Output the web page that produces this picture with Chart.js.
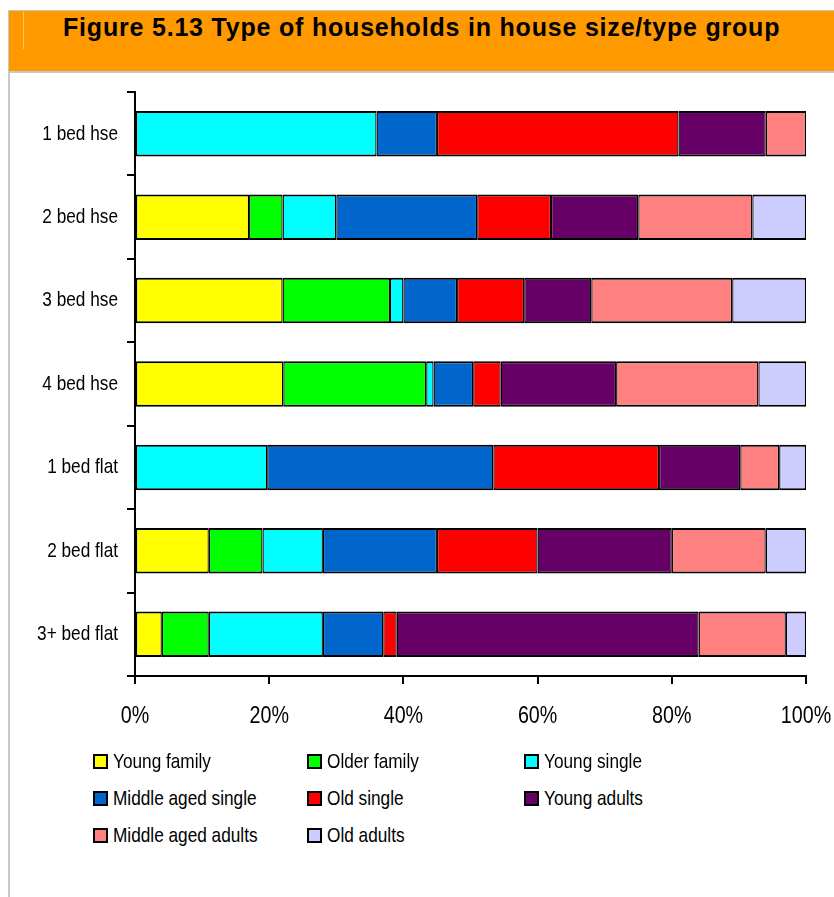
<!DOCTYPE html>
<html>
<head>
<meta charset="utf-8">
<script src="https://cdn.jsdelivr.net/npm/chart.js@4/dist/chart.umd.min.js"></script>
<style>
  html, body { margin: 0; padding: 0; background: #fff; }
  body { width: 834px; height: 897px; position: relative; overflow: hidden; }
  #banner {
    position: absolute; left: 8px; top: 10px; width: 826px; height: 60px;
    background: #FF9900; border-top: 1px solid #c8c8c8; border-bottom: 2px solid #c8c8c8;
    border-left: 1px solid #c8c8c8;
  }
  #banner .streak { position: absolute; left: 14px; top: 1px; width: 1px; height: 37px; background: #ffc36b; }
  #banner h1 {
    position: absolute; left: 54px; top: 2px; margin: 0;
    font: bold 25px "Liberation Sans", Arial, sans-serif; letter-spacing: 0.8px;
    color: #000; white-space: nowrap;
  }
  #frame { position: absolute; left: 8px; top: 73px; width: 2px; height: 824px; background: #c8c8c8; }
  #wrap { position: absolute; left: 10px; top: 74px; width: 824px; height: 680px; }
  #legend { position: absolute; left: 93px; top: 750px; width: 700px; }
  .item { position: absolute; display: flex; align-items: center; height: 22px; white-space: nowrap; }
  .item i { display: inline-block; width: 11px; height: 11px; border: 2px solid #000; margin-right: 5px; }
  .item span { display: inline-block; font: 21px "Liberation Sans", Arial, sans-serif; color: #000;
               transform: scaleX(0.82); transform-origin: 0 50%; }
</style>
</head>
<body>
<div id="banner"><div class="streak"></div><h1>Figure 5.13 Type of households in house size/type group</h1></div>
<div id="frame"></div>
<div id="wrap"><canvas id="chart" width="824" height="680"></canvas></div>
<div id="legend"></div>
<script>
// Household groups (rows) and the share of each household type, in percent
const categories = ['1 bed hse', '2 bed hse', '3 bed hse', '4 bed hse', '1 bed flat', '2 bed flat', '3+ bed flat'];
const seriesNames = ['Young family', 'Older family', 'Young single', 'Middle aged single',
                     'Old single', 'Young adults', 'Middle aged adults', 'Old adults'];
const seriesColors = ['#FFFF00', '#00FF00', '#00FFFF', '#0066CC', '#FF0000', '#660066', '#FF8080', '#CCCCFF'];

const youngFamily      = [0,  17, 22, 22.1, 0,    11, 4];
const olderFamily      = [0,  5,  16, 21.3, 0,    8,  7];
const youngSingle      = [36, 8,  2,  1.1,  19.7, 9,  17];
const middleAgedSingle = [9,  21, 8,  5.9,  33.7, 17, 9];
const oldSingle        = [36, 11, 10, 4.1,  24.7, 15, 2];
const youngAdults      = [13, 13, 10, 17.2, 12.1, 20, 45];
const middleAgedAdults = [6,  17, 21, 21.2, 5.8,  14, 13];
const oldAdults        = [0,  8,  11, 7.1,  4.0,  6,  3];

const xTicks = [0, 20, 40, 60, 80, 100];
const xTickLabels = ['0%', '20%', '40%', '60%', '80%', '100%'];

const seriesValues = [youngFamily, olderFamily, youngSingle, middleAgedSingle,
                      oldSingle, youngAdults, middleAgedAdults, oldAdults];

const Y_FONT = '21px "Liberation Sans", Arial, sans-serif';
const X_FONT = '24px "Liberation Sans", Arial, sans-serif';
const NARROW = 0.82;   // horizontal squeeze giving a narrow sans face

const datasets = seriesNames.map((name, i) => ({
  label: name,
  data: seriesValues[i],
  backgroundColor: seriesColors[i],
  borderColor: '#000',
  borderWidth: { top: 2, bottom: 2, left: 1.3, right: 1.3 },
  borderSkipped: false,
  categoryPercentage: 1,
  barPercentage: 0.545
}));

// Axis labels drawn in a condensed style at the scales' own tick positions
const narrowLabels = {
  id: 'narrowLabels',
  afterDraw(chart) {
    const { ctx, scales: { x, y } } = chart;
    const drawNarrow = (text, px, py, align) => {
      ctx.save();
      ctx.translate(px, py);
      ctx.scale(NARROW, 1);
      ctx.textAlign = align;
      ctx.fillText(text, 0, 0);
      ctx.restore();
    };
    ctx.save();
    ctx.fillStyle = '#000';
    ctx.textBaseline = 'middle';
    ctx.font = Y_FONT;
    categories.forEach((c, i) => drawNarrow(c, y.right - 17, y.getPixelForValue(i), 'right'));
    ctx.font = X_FONT;
    xTicks.forEach((v, i) => drawNarrow(xTickLabels[i], x.getPixelForValue(v), x.top + 40, 'center'));
    ctx.restore();
  }
};

const chart = new Chart(document.getElementById('chart'), {
  type: 'bar',
  data: { labels: categories, datasets },
  plugins: [narrowLabels],
  options: {
    indexAxis: 'y',
    responsive: false,
    animation: false,
    devicePixelRatio: 1,
    layout: { padding: { top: 18, right: 28, bottom: 22, left: 0 } },
    plugins: { legend: { display: false }, tooltip: { enabled: false } },
    scales: {
      x: {
        stacked: true, min: 0, max: 100,
        afterBuildTicks: s => { s.ticks = xTicks.map(v => ({ value: v })); },
        afterFit: s => { s.height = 56; },
        ticks: { display: false },
        grid: { display: true, drawOnChartArea: false, drawTicks: true, tickLength: 8,
                color: '#000', lineWidth: 2 },
        border: { display: true, color: '#000', width: 2 }
      },
      y: {
        stacked: true, offset: true,
        afterFit: s => { s.width = 125; },
        ticks: { display: false },
        grid: { display: true, offset: true, drawOnChartArea: false, drawTicks: true, tickLength: 8,
                color: '#000', lineWidth: 2 },
        border: { display: true, color: '#000', width: 2 }
      }
    }
  }
});

// Legend laid out in three aligned columns, built from the datasets
const legend = document.getElementById('legend');
const colX = [0, 214, 431];
chart.data.datasets.forEach((ds, i) => {
  const el = document.createElement('div');
  el.className = 'item';
  el.style.left = colX[i % 3] + 'px';
  el.style.top = (Math.floor(i / 3) * 37) + 'px';
  const sw = document.createElement('i');
  sw.style.background = ds.backgroundColor;
  const tx = document.createElement('span');
  tx.textContent = ds.label;
  el.appendChild(sw);
  el.appendChild(tx);
  legend.appendChild(el);
});
</script>
</body>
</html>
